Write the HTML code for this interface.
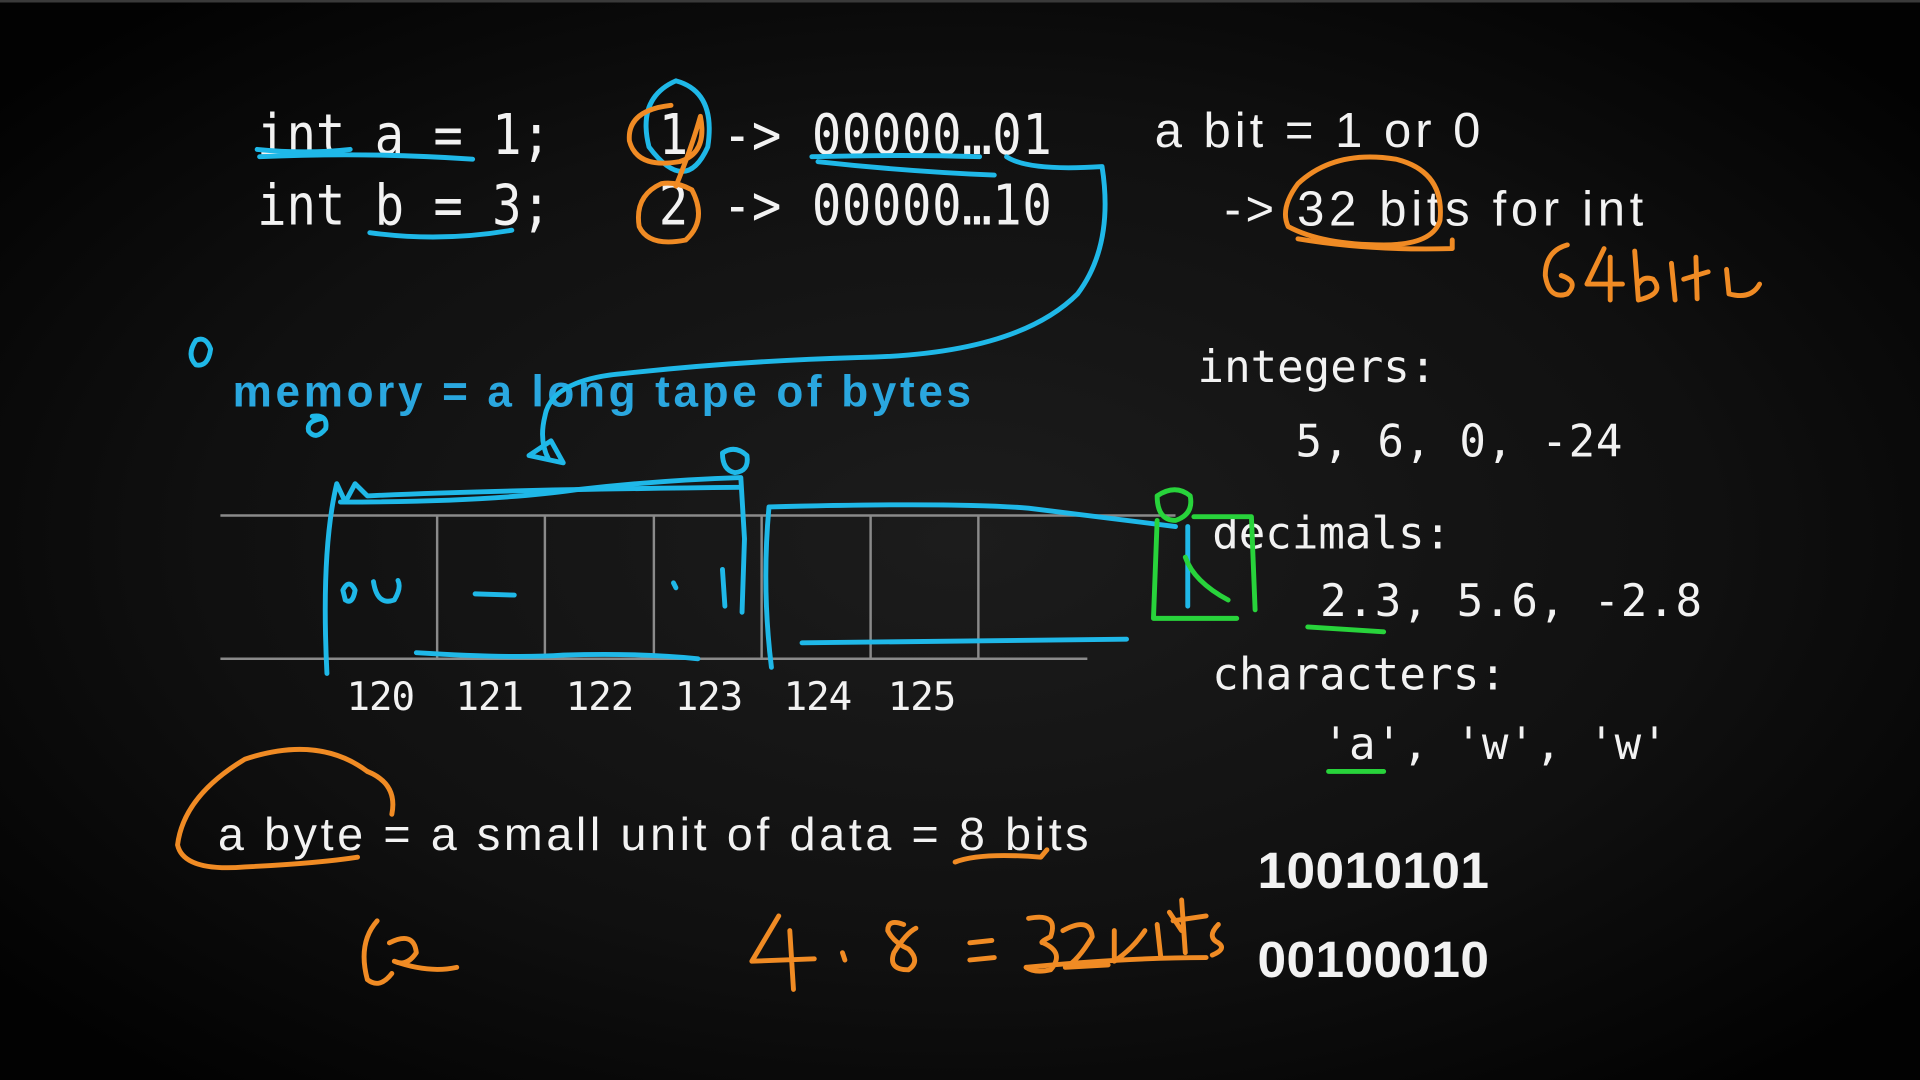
<!DOCTYPE html>
<html><head><meta charset="utf-8"><style>
html,body{margin:0;padding:0;background:#000;}
svg{display:block;}
</style></head><body>
<svg width="1920" height="1080" viewBox="0 0 1568 882" xmlns="http://www.w3.org/2000/svg">
<defs>
<radialGradient id="bg" cx="0.5" cy="0.5" r="0.65">
<stop offset="0" stop-color="#1c1c1c"/><stop offset="0.6" stop-color="#101010"/><stop offset="1" stop-color="#020202"/>
</radialGradient>
</defs>
<rect width="1568" height="882" fill="url(#bg)"/>
<line x1="0" y1="1" x2="1568" y2="1" stroke="#3a3a3a" stroke-width="2"/>

<g fill="#f2f2f2" font-family="'DejaVu Sans Mono', monospace">
<text x="210" y="126" font-size="40" textLength="240" transform="translate(0,-19) scale(1,1.15)">int a = 1;</text>
<text x="210" y="183" font-size="40" textLength="240" transform="translate(0,-27) scale(1,1.15)">int b = 3;</text>
<text x="538" y="126" font-size="40" transform="translate(0,-19) scale(1,1.15)">1</text>
<text x="538" y="183" font-size="40" transform="translate(0,-27) scale(1,1.15)">2</text>
<text x="590" y="126" font-size="40" transform="translate(0,-19) scale(1,1.15)">-&gt;</text>
<text x="590" y="183" font-size="40" transform="translate(0,-27) scale(1,1.15)">-&gt;</text>
<text x="663" y="126" font-size="40" textLength="196" transform="translate(0,-19) scale(1,1.15)">00000…01</text>
<text x="663" y="183" font-size="40" textLength="196" transform="translate(0,-27) scale(1,1.15)">00000…10</text>

<text x="978" y="312" font-size="36" textLength="195">integers:</text>
<text x="1058" y="373" font-size="36" textLength="267">5, 6, 0, -24</text>
<text x="990" y="448" font-size="36" textLength="195">decimals:</text>
<text x="1078" y="503" font-size="36" textLength="312">2.3, 5.6, -2.8</text>
<text x="990" y="563" font-size="36" textLength="240">characters:</text>
<text x="1080" y="620" font-size="36" textLength="282">'a', 'w', 'w'</text>

<g font-size="32">
<text x="283" y="580" textLength="56">120</text>
<text x="372" y="580" textLength="56">121</text>
<text x="462" y="580" textLength="56">122</text>
<text x="551" y="580" textLength="56">123</text>
<text x="640" y="580" textLength="56">124</text>
<text x="725" y="580" textLength="56">125</text>
</g>
</g>

<g fill="#f2f2f2" font-family="'Liberation Sans', sans-serif">
<text x="943" y="120" font-size="40" textLength="266">a bit = 1 or 0</text>
<text x="1000" y="184" font-size="40" textLength="342">-&gt; 32 bits for int</text>
<text x="178" y="694" font-size="38" textLength="711">a byte = a small unit of data = 8 bits</text>
<text x="1027" y="725" font-size="42" font-weight="bold" textLength="189">10010101</text>
<text x="1027" y="798" font-size="42" font-weight="bold" textLength="189">00100010</text>
<text x="190" y="332" font-size="36" font-weight="bold" fill="#2aa7df" textLength="603">memory = a long tape of bytes</text>
</g>

<!-- tape -->
<g stroke="#8a8a8a" stroke-width="2" fill="none">
<line x1="180" y1="421" x2="960" y2="421"/>
<line x1="180" y1="538" x2="888" y2="538"/>
<line x1="357" y1="421" x2="357" y2="538"/>
<line x1="445" y1="421" x2="445" y2="538"/>
<line x1="534" y1="421" x2="534" y2="538"/>
<line x1="622" y1="421" x2="622" y2="538"/>
<line x1="711" y1="421" x2="711" y2="538"/>
<line x1="799" y1="421" x2="799" y2="538"/>
</g>

<!-- cyan annotations -->
<g stroke="#1fb8e8" stroke-width="4" fill="none" stroke-linecap="round" stroke-linejoin="round">
<path d="M210 122 Q250 126 286 122"/>
<path d="M212 128 Q300 124 386 130"/>
<path d="M302 190 Q360 198 418 188"/>
<path d="M663 128 Q740 126 800 128"/>
<path d="M668 132 Q740 140 812 143"/>
<path d="M552 66 Q585 75 578 120 Q560 160 530 120 Q520 80 552 66"/>
<path d="M822 128 Q840 140 900 136 Q910 200 880 240 Q830 290 700 292 Q600 295 510 305 Q450 310 445 340 Q440 360 448 375"/>
<path d="M432 372 L450 360 L460 378 Z"/>
<path d="M160 278 Q168 274 172 285 Q170 300 160 298 Q152 290 160 278"/>
<path d="M255 340 Q268 338 266 350 Q258 360 252 352 Q250 344 262 342"/>
<path d="M267 550 Q262 450 275 395 L282 410 L290 395 L300 405 Q400 400 605 398"/>
<path d="M278 410 Q400 410 470 400 Q540 392 605 390 L608 440 L606 500"/>
<path d="M590 370 Q600 363 610 372 Q612 385 600 386 Q590 384 590 370"/>
<path d="M630 545 Q622 480 628 414 Q780 410 840 415 L960 430"/>
<path d="M655 525 L920 522"/>
<path d="M340 533 Q420 538 460 535 Q520 533 570 538"/>
<path d="M280 482 Q285 472 290 482 Q288 494 282 490 Z"/>
<path d="M305 475 Q308 495 322 490 Q328 480 325 474"/>
<path d="M388 485 L420 486"/>
<path d="M550 476 L552 480"/>
<path d="M590 465 L592 495"/>
<path d="M970 430 L970 495"/>
</g>

<!-- orange annotations -->
<g stroke="#f08b24" stroke-width="4" fill="none" stroke-linecap="round" stroke-linejoin="round">
<path d="M548 86 Q512 90 514 115 Q520 138 555 132 Q578 125 572 95 Q565 120 552 152"/>
<path d="M540 150 Q518 160 522 185 Q530 202 560 196 Q578 180 565 155 Q552 148 540 150"/>
<path d="M1060 150 Q1090 122 1140 130 Q1180 140 1176 180 Q1170 200 1130 200 Q1080 200 1052 185 Q1045 170 1060 150"/>
<path d="M1060 195 Q1120 205 1186 203 L1186 196"/>
<path d="M1280 200 Q1262 205 1262 225 Q1265 245 1280 240 Q1290 230 1275 225"/>
<path d="M1310 203 L1296 232 L1325 232 M1315 210 L1315 245"/>
<path d="M1335 205 L1338 245 Q1360 240 1350 228 Q1342 225 1338 232"/>
<path d="M1365 215 L1368 245 M1375 228 L1395 222 M1385 210 L1386 244"/>
<path d="M1410 220 L1412 240 Q1430 245 1437 232"/>
<path d="M300 630 Q260 600 200 620 Q150 650 145 690 Q150 712 200 708 Q260 705 292 700"/>
<path d="M300 630 Q325 640 320 665"/>
<path d="M780 704 Q800 696 850 700 L855 694"/>
<path d="M308 752 Q292 770 300 800 Q310 808 320 795"/>
<path d="M318 770 Q338 760 340 778 Q332 790 322 785 Q350 795 373 790"/>
<path d="M636 748 L614 785 L665 783 M645 760 L648 808"/>
<path d="M688 778 L690 784"/>
<path d="M738 755 Q725 750 725 760 Q730 770 742 775 Q752 785 742 792 Q725 792 730 778 Q740 762 748 758"/>
<path d="M792 770 L810 768 M792 784 L812 782"/>
<path d="M840 750 Q865 745 858 765 Q848 770 852 770 Q870 778 858 792 Q845 795 838 790"/>
<path d="M868 760 Q890 748 892 765 Q880 785 870 790 L905 788"/>
<path d="M838 790 Q920 782 985 782"/>
<path d="M910 760 L910 785 Q925 775 935 760 M945 755 L948 782 M955 745 L965 760 M965 735 L968 778 M958 752 L985 748"/>
<path d="M995 755 Q985 765 995 770 Q1002 775 990 780"/>
</g>

<!-- green annotations -->
<g stroke="#28d33b" stroke-width="4" fill="none" stroke-linecap="round" stroke-linejoin="round">
<path d="M945 405 Q960 395 972 405 Q975 420 960 425 Q945 425 945 405"/>
<path d="M945 425 L942 505 L1010 505"/>
<path d="M975 422 L1022 422 L1025 498"/>
<path d="M968 455 Q975 475 1003 490"/>
<path d="M1068 512 L1130 516"/>
<path d="M1085 630 L1130 630"/>
</g>
</svg>
</body></html>
